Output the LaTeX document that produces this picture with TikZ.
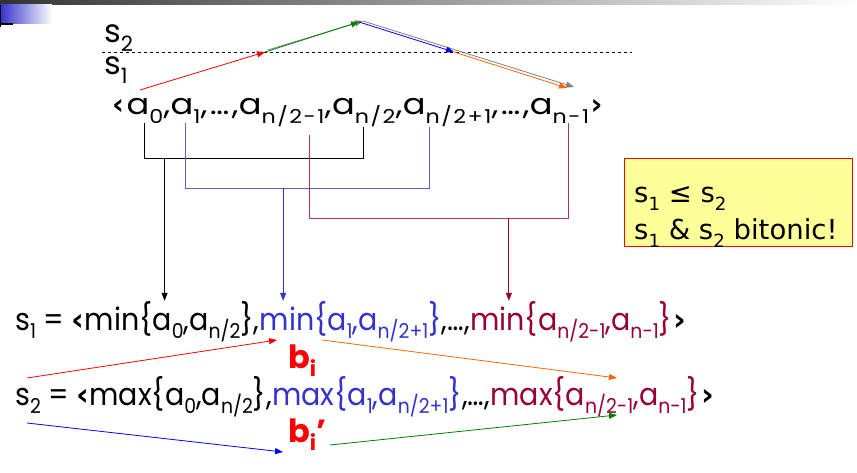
\documentclass[tikz,border=0pt]{standalone}
\usepackage{fontspec}
\setmainfont{Poppins}
\newfontfamily\seqfont[FakeStretch=1.16,LetterSpace=8]{Poppins}
\newfontfamily\rowfont[FakeStretch=0.92]{Poppins}
\newfontfamily\notefont{DejaVu Sans}
\usepackage{graphicx}
\usetikzlibrary{positioning,arrows.meta,calc}
\definecolor{SeqBlue}{HTML}{3333CC}
\definecolor{SeqMaroon}{HTML}{990033}
\definecolor{PathOrange}{HTML}{FF6600}
\definecolor{PathGreen}{HTML}{008000}
\definecolor{NoteYellow}{HTML}{FFFF99}
\newcommand{\low}[1]{\raisebox{-0.28em}{\scalebox{0.66}{#1}}}
\newcommand{\opn}{{\notefont\bfseries ‹}}
\newcommand{\cls}{{\notefont\bfseries ›}}

\begin{document}
\begin{tikzpicture}[
  x=1pt,y=-1pt,
  seq/.style={inner sep=0pt,font=\seqfont\fontsize{29}{31}\selectfont},
  rowtext/.style={inner sep=0pt,font=\rowfont\fontsize{31}{33}\selectfont},
  levellabel/.style={inner sep=0pt,anchor=base west,font=\fontsize{32}{34}\selectfont},
  bilabel/.style={inner sep=0pt,anchor=base west,text=red,font=\fontsize{32}{34}\selectfont\bfseries},
  note/.style={draw=red,fill=NoteYellow,anchor=north west,minimum width=228pt,minimum height=88pt,inner sep=0pt},
  notetext/.style={inner sep=0pt,anchor=base west,font=\notefont\fontsize{27.5}{30}\selectfont},
  brk/.style={line width=0.8pt},
  arr/.style={-{Triangle[length=8pt,width=6pt]},line width=0.8pt}
]
  \useasboundingbox (0,0) rectangle (857,473);
  % slide header
  \shade[left color=black!80,right color=white] (0,0) rectangle (857,5);
  \shade[left color=SeqBlue,right color=white] (0,5) rectangle (52,24);
  \fill[black] (0,5) rectangle (1,27);
  \fill[black] (0,23) rectangle (13,25);

  % the two levels
  \node[levellabel] (s2lab) at (104,43) {s\low{2}};
  \node[levellabel] (s1lab) at (104,75) {s\low{1}};
  \coordinate (lvl0) at (102,52);
  \coordinate (lvl1) at (632,52);
  \draw[dashed,line width=0.6pt] (lvl0) -- (lvl1);

  % input sequence
  \node[seq,anchor=base west] (lt) at (112,115) {\opn};
  \node[seq,base right=2pt of lt] (a0) {a\low{0}};
  \node[seq,base right=0pt of a0] (c0) {,};
  \node[seq,base right=0pt of c0] (a1) {a\low{1}};
  \node[seq,base right=0pt of a1] (d0) {,…,};
  \node[seq,base right=0pt of d0] (am) {a\low{n/2-1}};
  \node[seq,base right=0pt of am] (c1) {,};
  \node[seq,base right=0pt of c1] (ah) {a\low{n/2}};
  \node[seq,base right=0pt of ah] (c2) {,};
  \node[seq,base right=0pt of c2] (ah1) {a\low{n/2+1}};
  \node[seq,base right=0pt of ah1] (d1) {,…,};
  \node[seq,base right=0pt of d1] (an) {a\low{n-1}};
  \node[seq,base right=1pt of an] (rt) {\cls};

  % bitonic shape
  \coordinate (p0) at (140,90);
  \coordinate (p1) at (265,52);
  \coordinate (p2) at (359,22);
  \coordinate (p3) at (454,52);
  \coordinate (p4) at (567,88);
  \coordinate (g1) at (268,50);
  \coordinate (g2) at (363,21);
  \coordinate (g3) at (574,87);
  \draw[arr,gray] (g1) -- (g2);
  \draw[arr,gray] (g2) -- (g3);
  \draw[arr,red] (p0) -- (p1);
  \draw[arr,PathGreen] (p1) -- (p2);
  \draw[arr,blue] (p2) -- (p3);
  \draw[arr,PathOrange] (p3) -- (p4);

  % output rows
  \node[rowtext,anchor=base west] (s1a) at (15,330) {s\low{1} = \opn min\{a\low{0},a\low{n/2}\},};
  \node[rowtext,base right=0pt of s1a,text=SeqBlue] (s1b) {min\{a\low{1},a\low{n/2+1}\}};
  \node[rowtext,base right=0pt of s1b] (s1c) {,…,};
  \node[rowtext,base right=0pt of s1c,text=SeqMaroon] (s1d) {min\{a\low{n/2-1},a\low{n-1}\}};
  \node[rowtext,base right=1pt of s1d] (s1e) {\cls};
  \node[rowtext,anchor=base west] (s2a) at (15,405) {s\low{2} = \opn max\{a\low{0},a\low{n/2}\},};
  \node[rowtext,base right=0pt of s2a,text=SeqBlue] (s2b) {max\{a\low{1},a\low{n/2+1}\}};
  \node[rowtext,base right=0pt of s2b] (s2c) {,…,};
  \node[rowtext,base right=0pt of s2c,text=SeqMaroon] (s2d) {max\{a\low{n/2-1},a\low{n-1}\}};
  \node[rowtext,base right=1pt of s2d] (s2e) {\cls};

  % pairing brackets
  \coordinate (rung1) at (0,158);
  \coordinate (rung2) at (0,188);
  \coordinate (rung3) at (0,218);
  \coordinate (am0) at ($(am.south west)!0.82!(am.south east)$);
  \coordinate (ah10) at ($(ah1.south west)!0.3!(ah1.south east)$);
  \coordinate (an0) at ($(an.south west)!0.65!(an.south east)$);
  \draw[brk] (a0.south) -- (a0.south |- rung1) -| (ah.south);
  \draw[brk,SeqBlue!80] (a1.south) -- (a1.south |- rung2) -| (ah10);
  \draw[brk,SeqMaroon!80] ([yshift=-8pt]am0) -- (am0 |- rung3) -| (an0);
  \coordinate (j1) at ($(a0.south |- rung1)!0.09!(ah.south |- rung1)$);
  \coordinate (j2) at ($(a1.south |- rung2)!0.4!(ah10 |- rung2)$);
  \coordinate (j3) at ($(am0 |- rung3)!0.77!(an0 |- rung3)$);
  \draw[arr] (j1) -- (j1 |- s1a.north);
  \draw[arr,SeqBlue] (j2) -- (j2 |- s1b.north);
  \draw[arr,SeqMaroon] (j3) -- (j3 |- s1d.north);

  % b_i and b_i'
  \node[bilabel] (bi) at (288,368) {b\low{i}};
  \node[bilabel] (bip) at (288,442) {b\low{i}'};
  \coordinate (r0) at (27,378);
  \coordinate (r1) at (277,340);
  \coordinate (o0) at (322,340);
  \coordinate (o1) at (617,378);
  \coordinate (u0) at (27,423);
  \coordinate (u1) at (283,452);
  \coordinate (v0) at (330,445);
  \coordinate (v1) at (617,415);
  \draw[arr,red] (r0) -- (r1);
  \draw[arr,PathOrange] (o0) -- (o1);
  \draw[arr,blue] (u0) -- (u1);
  \draw[arr,PathGreen] (v0) -- (v1);

  % remark
  \node[note] (remark) at (624,158) {};
  \node[notetext] (rem1) at ([shift={(10,45)}]remark.north west) {s\low{1} ≤ s\low{2}};
  \node[notetext] (rem2) at ([shift={(10,82)}]remark.north west) {s\low{1} \& s\low{2} bitonic!};
\end{tikzpicture}
\end{document}
